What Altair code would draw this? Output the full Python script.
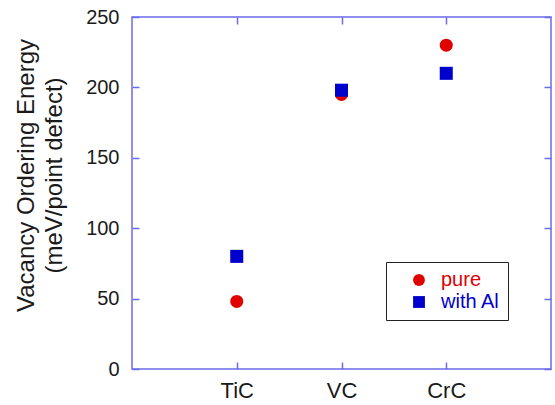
import altair as alt
import pandas as pd

materials = ["TiC", "VC", "CrC"]
series = ["pure", "with Al"]
pure_vals = [48, 195, 230]
al_vals = [80, 198, 210]
y_ticks = [0, 50, 100, 150, 200, 250]

rows = []
for m, v in zip(materials, pure_vals):
    rows.append({"material": m, "series": "pure", "energy": v})
for m, v in zip(materials, al_vals):
    rows.append({"material": m, "series": "with Al", "energy": v})
df = pd.DataFrame(rows)

FRAME = "#6b6bea"
TEXT = "#1a1a1a"
RED = "#e00000"
BLUE = "#0000cc"

xscale = alt.Scale(type="point", padding=1, domain=materials)
yscale = alt.Scale(domain=[0, 250], nice=False, zero=True)

points = alt.Chart(df).mark_point(filled=True, opacity=1, size=170, strokeWidth=0).encode(
    x=alt.X("material:N", scale=xscale, sort=materials,
            axis=alt.Axis(orient="bottom", title=None, labelAngle=0, domain=False,
                          tickSize=7, offset=-7, tickColor=FRAME, tickWidth=1.5,
                          labelFontSize=22, labelColor=TEXT, labelPadding=11,
                          labelFont="Liberation Sans")),
    y=alt.Y("energy:Q", scale=yscale,
            axis=alt.Axis(orient="left", values=y_ticks, domain=False, grid=False,
                          tickSize=7, offset=-7, tickColor=FRAME, tickWidth=1.5,
                          labelFontSize=20, labelColor=TEXT, labelPadding=13,
                          labelFont="Liberation Sans",
                          title=["Vacancy Ordering Energy", "(meV/point defect)"],
                          titleFontSize=24, titleFont="Liberation Sans",
                          titleFontWeight="normal", titleColor=TEXT,
                          titleLineHeight=28, titleBaseline="alphabetic",
                          titleAlign="center", titleAngle=-90,
                          titleX=-106, titleY=158)),
    color=alt.Color("series:N", scale=alt.Scale(domain=series, range=[RED, BLUE]),
                    legend=alt.Legend(title=None, orient="none", legendX=254, legendY=245,
                                      strokeColor="#222222", fillColor="white",
                                      padding=8, symbolOffset=15, labelOffset=12,
                                      labelFontSize=20, labelFont="Liberation Sans",
                                      labelColor={"expr": "datum.label == 'pure' ? '#e00000' : '#0000cc'"},
                                      symbolSize=140, symbolStrokeWidth=0, rowPadding=2)),
    shape=alt.Shape("series:N", scale=alt.Scale(domain=series, range=["circle", "square"]),
                    legend=None),
)

frame_axes = alt.Chart(df).mark_point(opacity=0).encode(
    x=alt.X("material:N", scale=xscale, sort=materials,
            axis=alt.Axis(orient="top", title=None, labels=False, domain=False,
                          tickSize=7, offset=-7, tickColor=FRAME, tickWidth=1.5)),
    y=alt.Y("energy:Q", scale=yscale,
            axis=alt.Axis(orient="right", values=y_ticks, title=None, labels=False,
                          domain=False, grid=False, tickSize=7, offset=-7,
                          tickColor=FRAME, tickWidth=1.5)),
)

chart = alt.layer(points, frame_axes).resolve_axis(x="independent", y="independent").properties(
    width=419, height=352,
    padding={"left": 132, "top": 17, "right": 4, "bottom": 36},
    autosize=alt.AutoSizeParams(type="none"),
    background="white",
).configure_view(stroke=FRAME, strokeWidth=1.5)

chart.save("out.html", embed_options={"renderer": "svg", "actions": False})
